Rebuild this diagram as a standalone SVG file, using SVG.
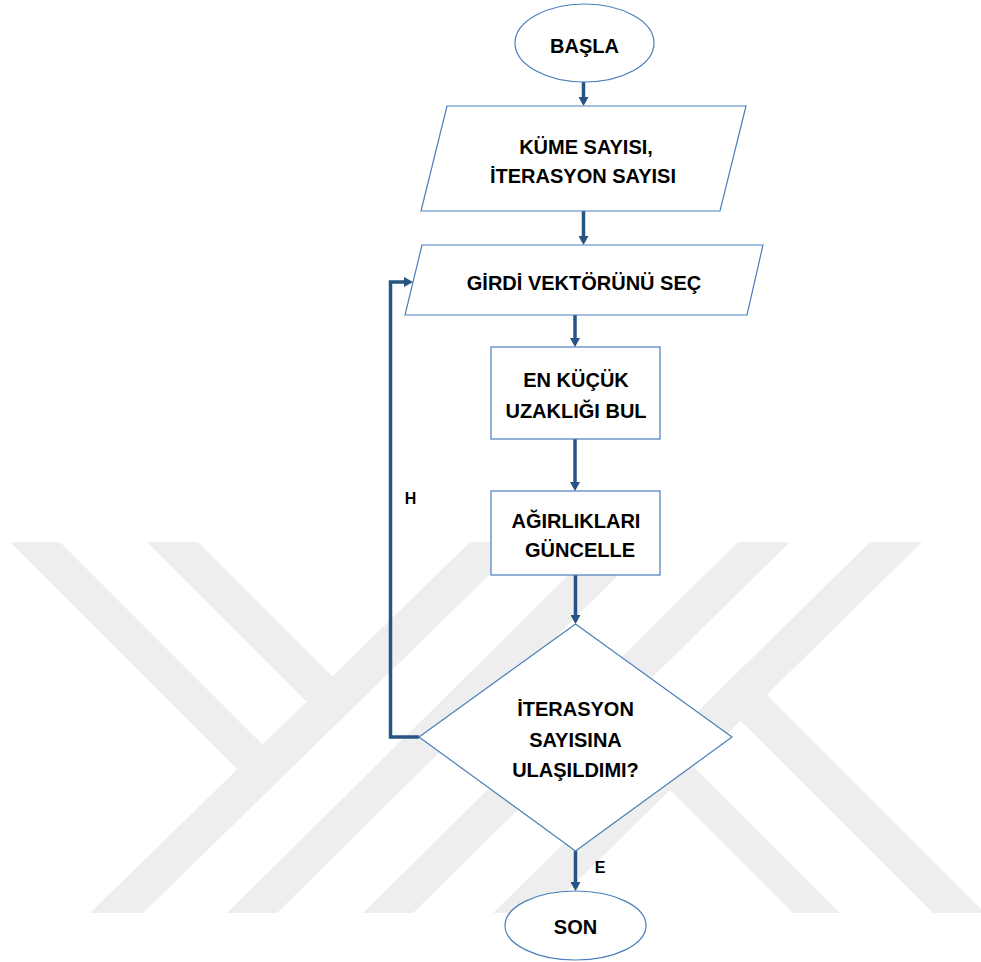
<svg xmlns="http://www.w3.org/2000/svg" width="981" height="962" viewBox="0 0 981 962">
  <style>
    .wm { fill: #eeeeee; stroke: none; }
    .shape { fill: #ffffff; stroke: #4a7ebb; stroke-width: 1.2; }
    .conn { fill: none; stroke: #275483; stroke-width: 3.5; }
    .label { font-family: "Liberation Sans", Arial, sans-serif; font-weight: bold; font-size: 20px; fill: #000000; text-anchor: middle; }
    .small { font-size: 16px; }
  </style>
  <defs>
    <marker id="arrow" markerUnits="userSpaceOnUse" viewBox="0 0 9 10" markerWidth="9" markerHeight="10" refX="6" refY="5" orient="auto">
      <path d="M0,0 L9,5 L0,10 Z" fill="#275483"/>
    </marker>
  </defs>

  <rect width="981" height="962" fill="#ffffff"/>

  <!-- background emblem: light grey diagonal bands -->
  <g id="emblem">
    <polygon class="wm" points="90,913 143,913 523,542 470,542"/>
    <polygon class="wm" points="10,542 60,542 280,762 250,782"/>
    <polygon class="wm" points="147,542 198,542 350,694 310,705"/>
    <polygon class="wm" points="227,913 277,913 652,542 602,542"/>
    <polygon class="wm" points="363,913 413,913 790,542 738,542"/>
    <polygon class="wm" points="493,913 545,913 922,542 870,542"/>
    <polygon class="wm" points="760,688 985,913 933,913 730,710"/>
    <polygon class="wm" points="620,693 840,913 793,913 595,715"/>
  </g>

  <!-- connectors -->
  <g id="connectors">
    <line class="conn" x1="583.5" y1="82" x2="583.5" y2="103" marker-end="url(#arrow)"/>
    <line class="conn" x1="583.5" y1="211" x2="583.5" y2="242" marker-end="url(#arrow)"/>
    <line class="conn" x1="575" y1="315" x2="575" y2="344" marker-end="url(#arrow)"/>
    <line class="conn" x1="575" y1="439" x2="575" y2="488" marker-end="url(#arrow)"/>
    <line class="conn" x1="575.5" y1="575" x2="575.5" y2="621" marker-end="url(#arrow)"/>
    <line class="conn" x1="575.5" y1="851" x2="575.5" y2="888" marker-end="url(#arrow)"/>
    <path class="conn" d="M419,737 H390.5 V282 H410" marker-end="url(#arrow)"/>
    <text class="label small" x="410.5" y="504">H</text>
    <text class="label small" x="600" y="873">E</text>
  </g>

  <g id="start">
    <ellipse class="shape" cx="584.5" cy="43" rx="69.5" ry="39"/>
    <text class="label" x="584.5" y="53">BAŞLA</text>
  </g>

  <g id="input-counts">
    <polygon class="shape" points="447,106 746,106 720,211 421,211"/>
    <text class="label" x="586" y="154">KÜME SAYISI,</text>
    <text class="label" x="583" y="183">İTERASYON SAYISI</text>
  </g>

  <g id="select-vector">
    <polygon class="shape" points="422,245 763,245 747,315 405,315"/>
    <text class="label" x="584" y="290">GİRDİ VEKTÖRÜNÜ SEÇ</text>
  </g>

  <g id="min-distance">
    <rect class="shape" x="491" y="347" width="169" height="92"/>
    <text class="label" x="576" y="387">EN KÜÇÜK</text>
    <text class="label" x="576" y="418">UZAKLIĞI BUL</text>
  </g>

  <g id="update-weights">
    <rect class="shape" x="491" y="491" width="169" height="84"/>
    <text class="label" x="576" y="528">AĞIRLIKLARI</text>
    <text class="label" x="580" y="557">GÜNCELLE</text>
  </g>

  <g id="iteration-check">
    <polygon class="shape" points="575.5,624 732,737 575.5,851 419,737"/>
    <text class="label" x="575.5" y="716">İTERASYON</text>
    <text class="label" x="575.5" y="747">SAYISINA</text>
    <text class="label" x="575.5" y="777">ULAŞILDIMI?</text>
  </g>

  <g id="end">
    <ellipse class="shape" cx="575.5" cy="925.5" rx="70.5" ry="34.5"/>
    <text class="label" x="575.5" y="934">SON</text>
  </g>
</svg>
